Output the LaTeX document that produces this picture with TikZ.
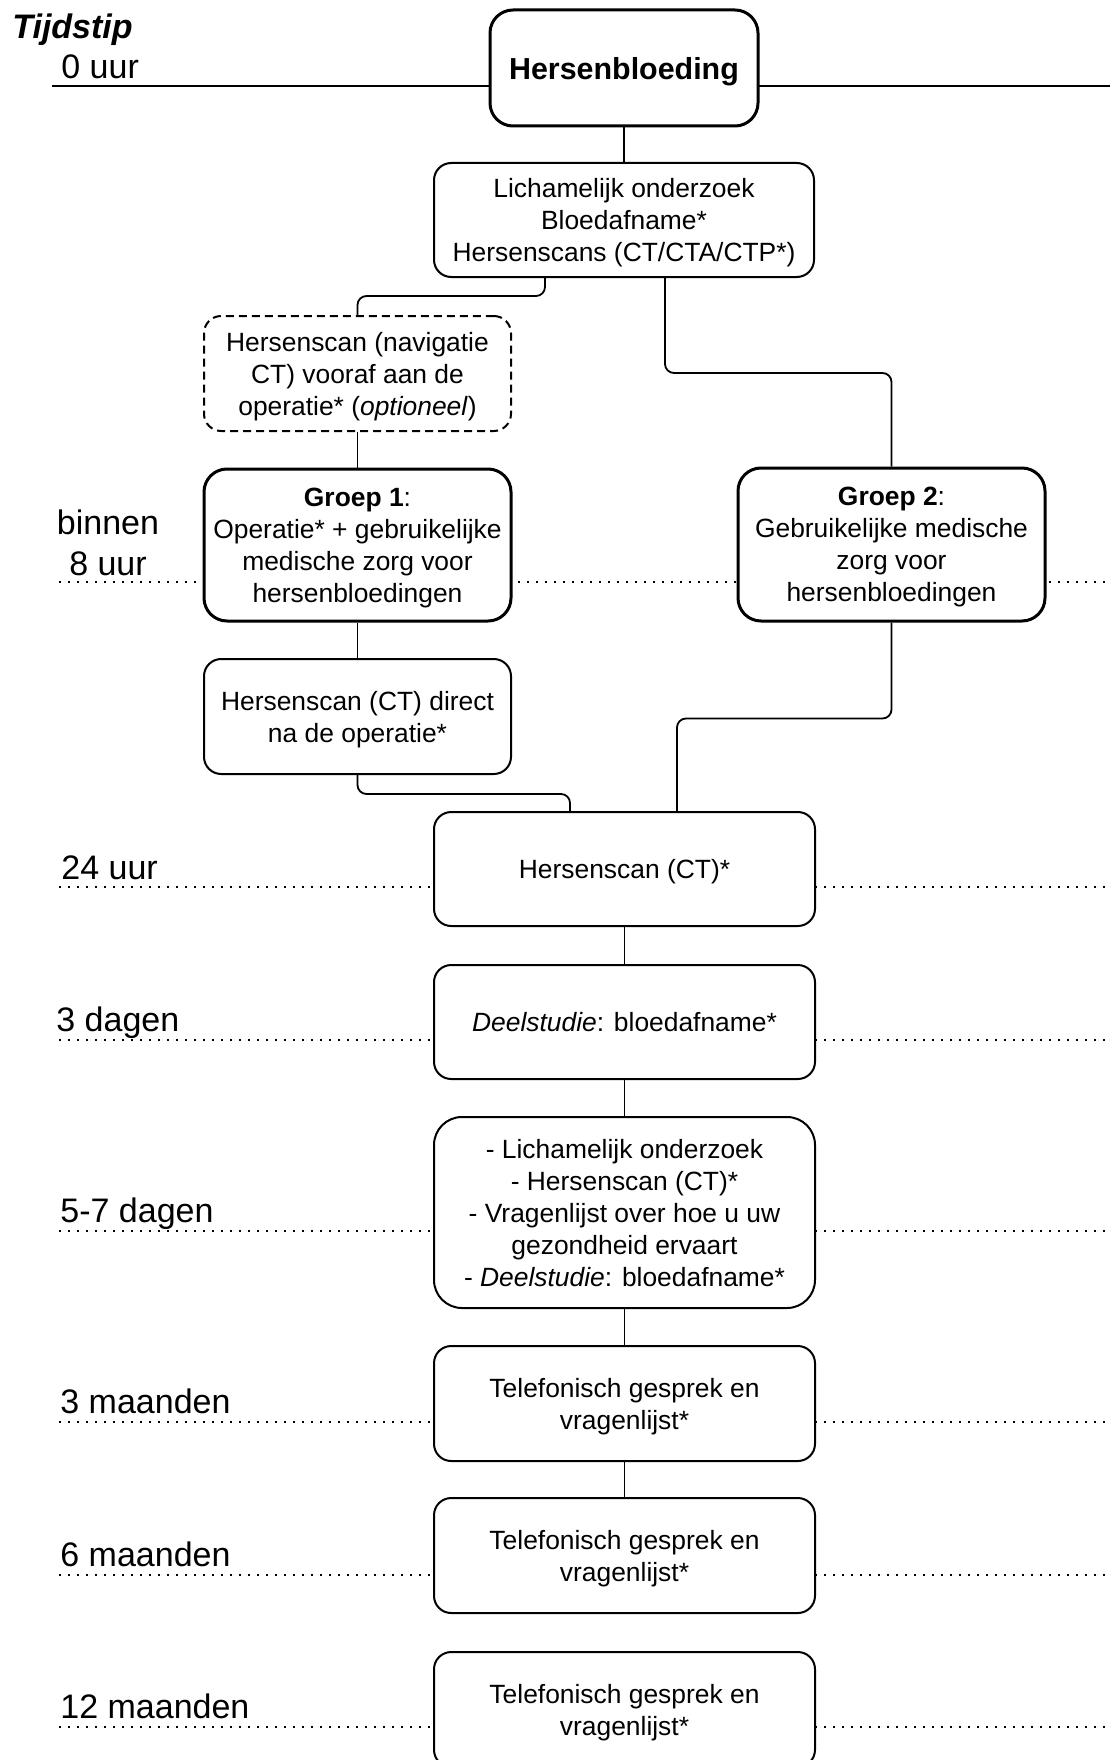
\documentclass[tikz,border=0pt]{standalone}
\usepackage{fontspec}
\setmainfont{Liberation Sans}
\usetikzlibrary{calc}
\begin{document}
\begin{tikzpicture}[x=0.5pt,y=-0.5pt,
  box/.style={draw, line width=1pt, fill=white, rounded corners=8.6pt, align=center, inner sep=0pt,
    text depth=0pt, font=\fontsize{13.2pt}{16pt}\selectfont},
  thickbox/.style={box, line width=1.5pt, rounded corners=11.5pt},
  dashbox/.style={box, dash pattern=on 4pt off 2.5pt},
  lbl/.style={font=\fontsize{17pt}{20.5pt}\selectfont, anchor=base west, inner sep=0pt},
  conn/.style={line width=0.9pt, rounded corners=4.5pt},
  tick/.style={line width=0.9pt, dash pattern=on 0.9pt off 3.6pt},
]
\useasboundingbox (0,0) rectangle (1110,1760);
\clip (0,0) rectangle (1110,1760);

% timeline rules
\draw[line width=1pt] (52,86) -- (1110,86);
\foreach \yy in {582,887,1040,1231,1422,1575,1727}
  \draw[tick] (59,\yy) -- (1110,\yy);

% labels
\node[lbl, font=\fontsize{17pt}{20.5pt}\selectfont\bfseries\itshape] (tt) at (12,39) {Tijdstip};
\node[lbl] (l0) at (61,79) {0 uur};
\node[lbl, anchor=base, align=center] (l8) at (108,575) {binnen\\ 8 uur};
\node[lbl] (l24) at (61,879) {24 uur};
\node[lbl] (l3d) at (56,1031) {3 dagen};
\node[lbl] (l57) at (60,1222) {5-7 dagen};
\node[lbl] (l3m) at (60,1413) {3 maanden};
\node[lbl] (l6m) at (60,1566) {6 maanden};
\node[lbl] (l12m) at (60,1718) {12 maanden};

% boxes
\node[thickbox, minimum width=134pt, minimum height=58pt, font=\fontsize{15.2pt}{18pt}\selectfont\bfseries] (hb) at (624,68) {Hersenbloeding};
\node[box, minimum width=190pt, minimum height=57pt] (b2) at (624,220) {Lichamelijk onderzoek\\Bloedafname*\\Hersenscans (CT/CTA/CTP*)};
\node[dashbox, minimum width=153.5pt, minimum height=57.5pt] (nav) at (357.5,373.5) {Hersenscan (navigatie\\CT) vooraf aan de\\operatie* (\textit{optioneel})};
\node[thickbox, minimum width=153.5pt, minimum height=76pt] (g1) at (357.5,545) {\textbf{Groep 1}:\\Operatie* + gebruikelijke\\medische zorg voor\\hersenbloedingen};
\node[thickbox, minimum width=153.5pt, minimum height=76.5pt] (g2) at (891.5,544.5) {\textbf{Groep 2}:\\Gebruikelijke medische\\zorg voor\\hersenbloedingen};
\node[box, minimum width=153.5pt, minimum height=57.5pt] (dir) at (357.5,716.5) {Hersenscan (CT) direct\\na de operatie*};
\node[box, minimum width=190.5pt, minimum height=57pt] (h24) at (624.5,869) {Hersenscan (CT)*};
\node[box, minimum width=190.5pt, minimum height=57pt] (d3) at (624.5,1022) {\textit{Deelstudie}: bloedafname*};
\node[box, minimum width=190.5pt, minimum height=95.5pt, rounded corners=14pt] (d57) at (624.5,1212.5) {- Lichamelijk onderzoek\\- Hersenscan (CT)*\\- Vragenlijst over hoe u uw\\gezondheid ervaart\\- \textit{Deelstudie}: bloedafname*};
\node[box, minimum width=190.5pt, minimum height=57.5pt] (m3) at (624.5,1403.5) {Telefonisch gesprek en\\vragenlijst*};
\node[box, minimum width=190.5pt, minimum height=57.5pt] (m6) at (624.5,1555.5) {Telefonisch gesprek en\\vragenlijst*};
\node[box, minimum width=190.5pt, minimum height=57.5pt] (m12) at (624.5,1709.5) {Telefonisch gesprek en\\vragenlijst*};

% connectors
\draw[conn] (hb.south) -- (b2.north);
\draw[conn] ($(b2.south)+(-79,0)$) -- ++(0,18) -| (nav.north);
\draw[conn] ($(b2.south)+(41,0)$) -- ++(0,95) -| (g2.north);
\draw[conn] (nav.south) -- (g1.north);
\draw[conn] (g1.south) -- (dir.north);
\draw[conn] (dir.south) -- ++(0,19) -| ($(h24.north)+(-54.5,0)$);
\draw[conn] (g2.south) -- ++(0,96) -| ($(h24.north)+(52.5,0)$);
\draw[conn] (h24.south) -- (d3.north);
\draw[conn] (d3.south) -- (d57.north);
\draw[conn] (d57.south) -- (m3.north);
\draw[conn] (m3.south) -- (m6.north);
\end{tikzpicture}
\end{document}
